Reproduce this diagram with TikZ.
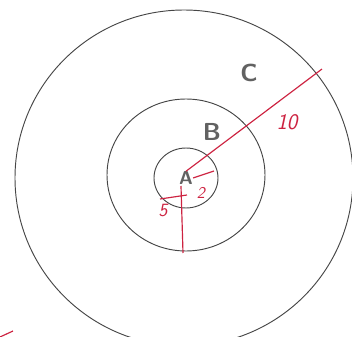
\documentclass[tikz,border=0pt]{standalone}
\usepackage{tikz}

\definecolor{penred}{RGB}{205,35,65}
\definecolor{pencil}{RGB}{70,70,70}

\begin{document}
\begin{tikzpicture}[
  x=0.03cm, y=-0.03cm,
  ring/.style={draw=pencil, line width=0.8pt},
  redline/.style={draw=penred, line width=1pt},
  zone/.style={text=pencil!85, font=\sffamily\bfseries\fontsize{21}{21}\selectfont, inner sep=0pt},
  dim/.style={text=penred, font=\sffamily\itshape\fontsize{19}{19}\selectfont, inner sep=0pt},
]
\useasboundingbox (0,0) rectangle (352,337);

\begin{scope}
	\coordinate (O) at (184,178);
	\draw [ring] (O) ellipse [x radius=169, y radius=168];
	\draw [ring] (186,175) ellipse [x radius=79, y radius=76];
	\draw [ring] (186,178) ellipse [x radius=32, y radius=30];

	\node [zone, font=\sffamily\bfseries\fontsize{16}{16}\selectfont] (A) at (186,178) {A};
	\node [zone] (B) at (212,132) {B};
	\node [zone] (C) at (249,73) {C};

	\coordinate (tip10) at (322,69);
	\coordinate (tip2) at (214,171);
	\coordinate (tip5) at (183,253);
	\coordinate (foot) at (181,186);

	\draw [redline] (A.north) -- (tip10);
	\draw [redline] (A.east) -- (tip2);
	\draw [redline] (foot) -- (tip5);
	\draw [redline] (160,199) -- (187,195);
	\draw [redline] (0,337) -- (13,331);

	\node [dim] (ten) at (287,122) {10};
	\node [dim, font=\sffamily\itshape\fontsize{14}{14}\selectfont] (two) at (201,193) {2};
	\node [dim, font=\sffamily\itshape\fontsize{16}{16}\selectfont] (five) at (163,211) {5};
\end{scope}

\end{tikzpicture}
\end{document}
